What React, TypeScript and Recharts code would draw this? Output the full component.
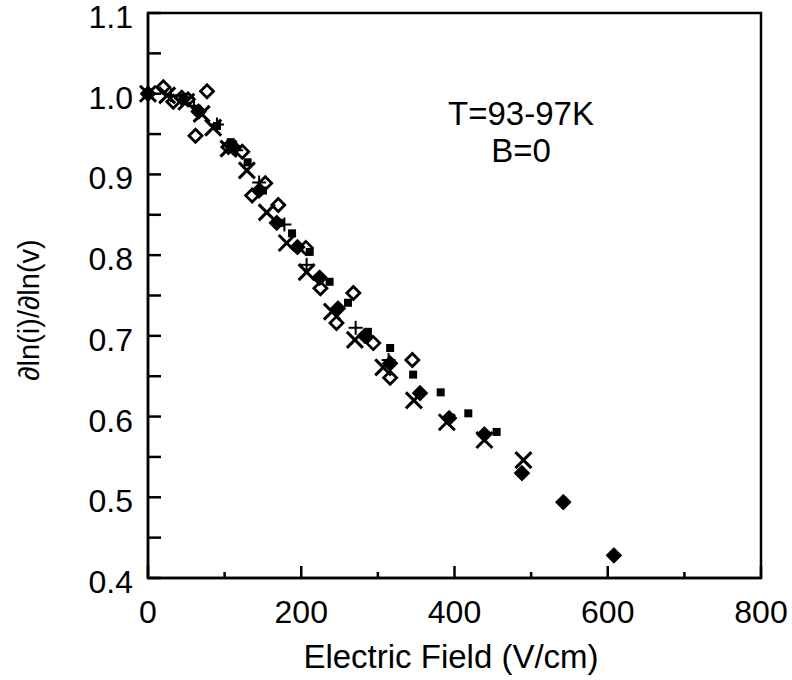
import { ScatterChart, Scatter, XAxis, YAxis, ReferenceArea } from 'recharts'

// Electric field (V/cm) vs d ln(i) / d ln(v), five runs at T=93-97K, B=0
const openDiamonds: [number, number][] = [
  [20, 1.008], [33, 0.99], [44, 0.995], [52, 0.993], [62, 0.948], [77, 1.003],
  [105, 0.934], [123, 0.928], [136, 0.874], [153, 0.889], [170, 0.862],
  [206, 0.809], [225, 0.759], [246, 0.716], [268, 0.753], [294, 0.691],
  [316, 0.648], [345, 0.67],
]
const filledSquares: [number, number][] = [
  [45, 0.995], [65, 0.98], [90, 0.96], [108, 0.94], [130, 0.915], [150, 0.88],
  [172, 0.84], [188, 0.827], [211, 0.804], [237, 0.767], [261, 0.741],
  [287, 0.705], [316, 0.685], [346, 0.652], [382, 0.63], [418, 0.604], [455, 0.581],
]
const plusMarks: [number, number][] = [
  [0, 1.0], [30, 0.998], [60, 0.985], [90, 0.962], [115, 0.93], [145, 0.89],
  [178, 0.838], [207, 0.788], [271, 0.71], [314, 0.67],
]
const crossMarks: [number, number][] = [
  [0, 1.0], [25, 0.998], [50, 0.99], [70, 0.975], [85, 0.958], [105, 0.932],
  [129, 0.905], [155, 0.853], [181, 0.815], [207, 0.779], [240, 0.73],
  [270, 0.695], [307, 0.661], [347, 0.62], [390, 0.593], [439, 0.571], [490, 0.546],
]
const filledDiamonds: [number, number][] = [
  [0, 1.0], [66, 0.978], [112, 0.933], [145, 0.88], [168, 0.84], [195, 0.81],
  [224, 0.772], [248, 0.734], [283, 0.7], [316, 0.666], [355, 0.629],
  [393, 0.598], [439, 0.578], [488, 0.53], [542, 0.494], [608, 0.428],
]

const xTicks = [0, 100, 200, 300, 400, 500, 600, 700, 800]
const yTicks = [0.4, 0.45, 0.5, 0.55, 0.6, 0.65, 0.7, 0.75, 0.8, 0.85, 0.9, 0.95, 1.0, 1.05, 1.1]

const FONT = '"Liberation Sans", Arial, Helvetica, sans-serif'
const toPoints = (d: [number, number][]) => d.map(([x, y]) => ({ x, y }))

function OpenDiamond({ cx, cy }: any) {
  const r = 6.5
  return <path d={`M${cx},${cy - r}L${cx + r},${cy}L${cx},${cy + r}L${cx - r},${cy}Z`} fill="none" stroke="#000" strokeWidth={2.8} />
}
function FilledDiamond({ cx, cy }: any) {
  const r = 7.5
  return <path d={`M${cx},${cy - r}L${cx + r},${cy}L${cx},${cy + r}L${cx - r},${cy}Z`} fill="#000" strokeLinejoin="round" stroke="#000" strokeWidth={1.2} />
}
function FilledSquare({ cx, cy }: any) {
  return <rect x={cx - 4} y={cy - 4} width={8} height={8} fill="#000" />
}
function Plus({ cx, cy }: any) {
  const r = 7
  return (
    <g stroke="#000" strokeWidth={2}>
      <line x1={cx - r} x2={cx + r} y1={cy} y2={cy} />
      <line x1={cx} x2={cx} y1={cy - r} y2={cy + r} />
    </g>
  )
}
function Cross({ cx, cy }: any) {
  const r = 8
  return (
    <g stroke="#000" strokeWidth={3}>
      <line x1={cx - r} x2={cx + r} y1={cy - r} y2={cy + r} />
      <line x1={cx - r} x2={cx + r} y1={cy + r} y2={cy - r} />
    </g>
  )
}

const TICK_MARGIN = 15

function YTick({ x, y, payload }: any) {
  const v = payload.value
  const major = Math.round(v * 100) % 10 === 0
  const ax = x + TICK_MARGIN
  return (
    <g>
      <line x1={ax} x2={ax + 13} y1={y} y2={y} stroke="#000" strokeWidth={2.5} />
      {major && (
        <text x={x} y={y + 15} textAnchor="end" fontSize={32} fontFamily={FONT} fill="#000">
          {v.toFixed(1)}
        </text>
      )}
    </g>
  )
}

function XTick({ x, y, payload }: any) {
  const v = payload.value
  const major = v % 200 === 0
  const ay = y - TICK_MARGIN
  return (
    <g>
      <line x1={x} x2={x} y1={ay} y2={ay - (major ? 12 : 6)} stroke="#000" strokeWidth={2.5} />
      {major && (
        <text x={x} y={y + 30} textAnchor="middle" fontSize={32} fontFamily={FONT} fill="#000">
          {v}
        </text>
      )}
    </g>
  )
}

export default function App() {
  return (
    <div style={{ position: 'absolute', left: 0, top: 0, width: 792, height: 680, background: '#fff', fontFamily: FONT }}>
      <ScatterChart width={792} height={680} margin={{ top: 13, right: 31, left: 48, bottom: 42 }}>
        <XAxis
          type="number"
          dataKey="x"
          domain={[0, 800]}
          ticks={xTicks}
          interval={0}
          height={60}
          tickSize={0}
          tickMargin={TICK_MARGIN}
          tickLine={false}
          axisLine={{ stroke: '#000', strokeWidth: 2.5 }}
          tick={<XTick />}
          label={{
            content: () => (
              <text x={451} y={668} textAnchor="middle" fontSize={33} fontFamily={FONT} fill="#000">
                Electric Field (V/cm)
              </text>
            ),
          }}
        />
        <YAxis
          type="number"
          dataKey="y"
          domain={[0.4, 1.1]}
          ticks={yTicks}
          interval={0}
          width={100}
          tickSize={0}
          tickMargin={TICK_MARGIN}
          tickLine={false}
          allowDataOverflow
          axisLine={{ stroke: '#000', strokeWidth: 2.5 }}
          tick={<YTick />}
          label={{
            content: () => (
              <text x={29} y={310} transform="rotate(-90 29 310)" textAnchor="middle" dominantBaseline="central" fontSize={29} fontFamily={FONT} fill="#000">
                ∂ln(i)/∂ln(v)
              </text>
            ),
          }}
        />
        <ReferenceArea x1={0} x2={800} y1={0.4} y2={1.1} fill="none" fillOpacity={0} stroke="#000" strokeWidth={2.5} ifOverflow="visible" />
        <Scatter data={toPoints(openDiamonds)} shape={<OpenDiamond />} isAnimationActive={false} />
        <Scatter data={toPoints(filledSquares)} shape={<FilledSquare />} isAnimationActive={false} />
        <Scatter data={toPoints(plusMarks)} shape={<Plus />} isAnimationActive={false} />
        <Scatter data={toPoints(crossMarks)} shape={<Cross />} isAnimationActive={false} />
        <Scatter data={toPoints(filledDiamonds)} shape={<FilledDiamond />} isAnimationActive={false} />
      </ScatterChart>
      <div style={{ position: 'absolute', left: 421, top: 95, width: 200, textAlign: 'center', fontSize: 33, lineHeight: '37px', color: '#000' }}>
        T=93-97K
        <br />
        B=0
      </div>
    </div>
  )
}
